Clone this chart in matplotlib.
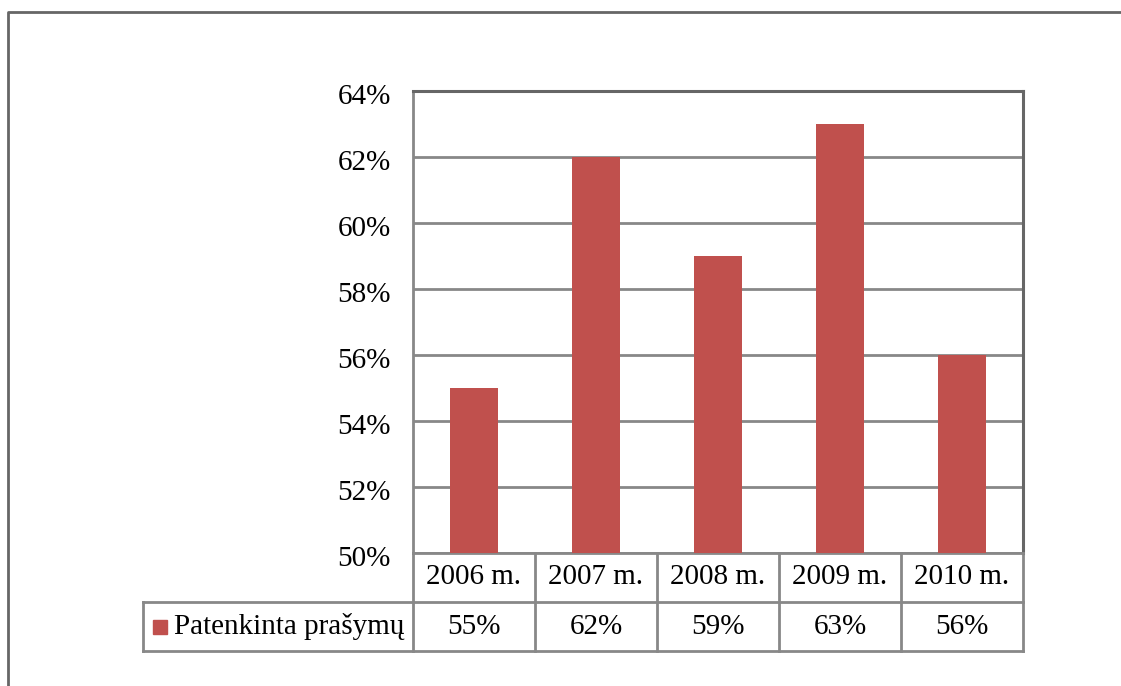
import matplotlib.pyplot as plt
import matplotlib.transforms as mtransforms
from matplotlib.lines import Line2D
from matplotlib.patches import Rectangle

years = ['2006 m.', '2007 m.', '2008 m.', '2009 m.', '2010 m.']
values = [55, 62, 59, 63, 56]
series_name = 'Patenkinta prašymų'
y_ticks = [50, 52, 54, 56, 58, 60, 62, 64]

bar_color = '#C0504D'
grid_color = '#888888'
dark_color = '#666666'

plt.rcParams['font.family'] = ['Liberation Serif', 'DejaVu Serif']
fs = 21

fig = plt.figure(figsize=(11.21, 6.86), dpi=100)
ax = fig.add_axes([413 / 1121, 1 - 553 / 686, 610 / 1121, 462 / 686])

x = list(range(len(years)))
ax.bar(x, [v - 50 for v in values], bottom=50, width=0.4, color=bar_color, zorder=3)

ax.set_xlim(-0.5, len(years) - 0.5)
ax.set_ylim(50, 64)
ax.set_yticks(y_ticks)
ax.set_yticklabels(['{}%'.format(t) for t in y_ticks], fontsize=fs)
ax.set_xticks([])
ax.tick_params(axis='y', length=0, pad=16)
ax.grid(axis='y', color=grid_color, linewidth=2.0, zorder=1)

# labels sit a little below their gridline, as in the original
shift = mtransforms.ScaledTranslation(0, -3 / 100, fig.dpi_scale_trans)
for lab in ax.get_yticklabels():
    lab.set_transform(lab.get_transform() + shift)

for side in ['left', 'bottom']:
    ax.spines[side].set_color(grid_color)
    ax.spines[side].set_linewidth(2.0)
for side in ['top', 'right']:
    ax.spines[side].set_color(dark_color)
    ax.spines[side].set_linewidth(2.2)

# data table under the plot
row_h = 49 / 462
leg_x = (143 - 413) / 610
ncol = len(years)
tr = ax.transAxes

def hline(x0, x1, y, color=grid_color):
    ax.add_line(Line2D([x0, x1], [y, y], transform=tr, color=color, lw=2.0,
                       clip_on=False, solid_capstyle='projecting'))

def vline(xx, y0, y1, color=grid_color):
    ax.add_line(Line2D([xx, xx], [y0, y1], transform=tr, color=color, lw=2.0,
                       clip_on=False, solid_capstyle='projecting'))

hline(0, 1, -row_h)
hline(leg_x, 0, -row_h)
hline(leg_x, 1, -2 * row_h)
vline(leg_x, -row_h, -2 * row_h)
for i in range(ncol + 1):
    vline(i / ncol, 0, -2 * row_h)

for i, (yr, v) in enumerate(zip(years, values)):
    cx = (i + 0.5) / ncol
    ax.text(cx, -0.5 * row_h, yr, transform=tr, ha='center', va='center', fontsize=fs)
    ax.text(cx, -1.5 * row_h, '{}%'.format(v), transform=tr, ha='center', va='center',
            fontsize=fs)

sq = 14 / 610
ax.add_patch(Rectangle((leg_x + 10 / 610, -1.5 * row_h - 7 / 462), sq, 14 / 462,
                       transform=tr, color=bar_color, clip_on=False))
ax.text(leg_x + 31 / 610, -1.5 * row_h, series_name, transform=tr, ha='left',
        va='center', fontsize=fs)

# outer chart frame
fx = 8 / 1121
fy = 1 - 12 / 686
fig.add_artist(Line2D([fx, fx, 1], [0, fy, fy], transform=fig.transFigure,
                      color=dark_color, lw=2.0))

fig.savefig('out.png', dpi=100)
